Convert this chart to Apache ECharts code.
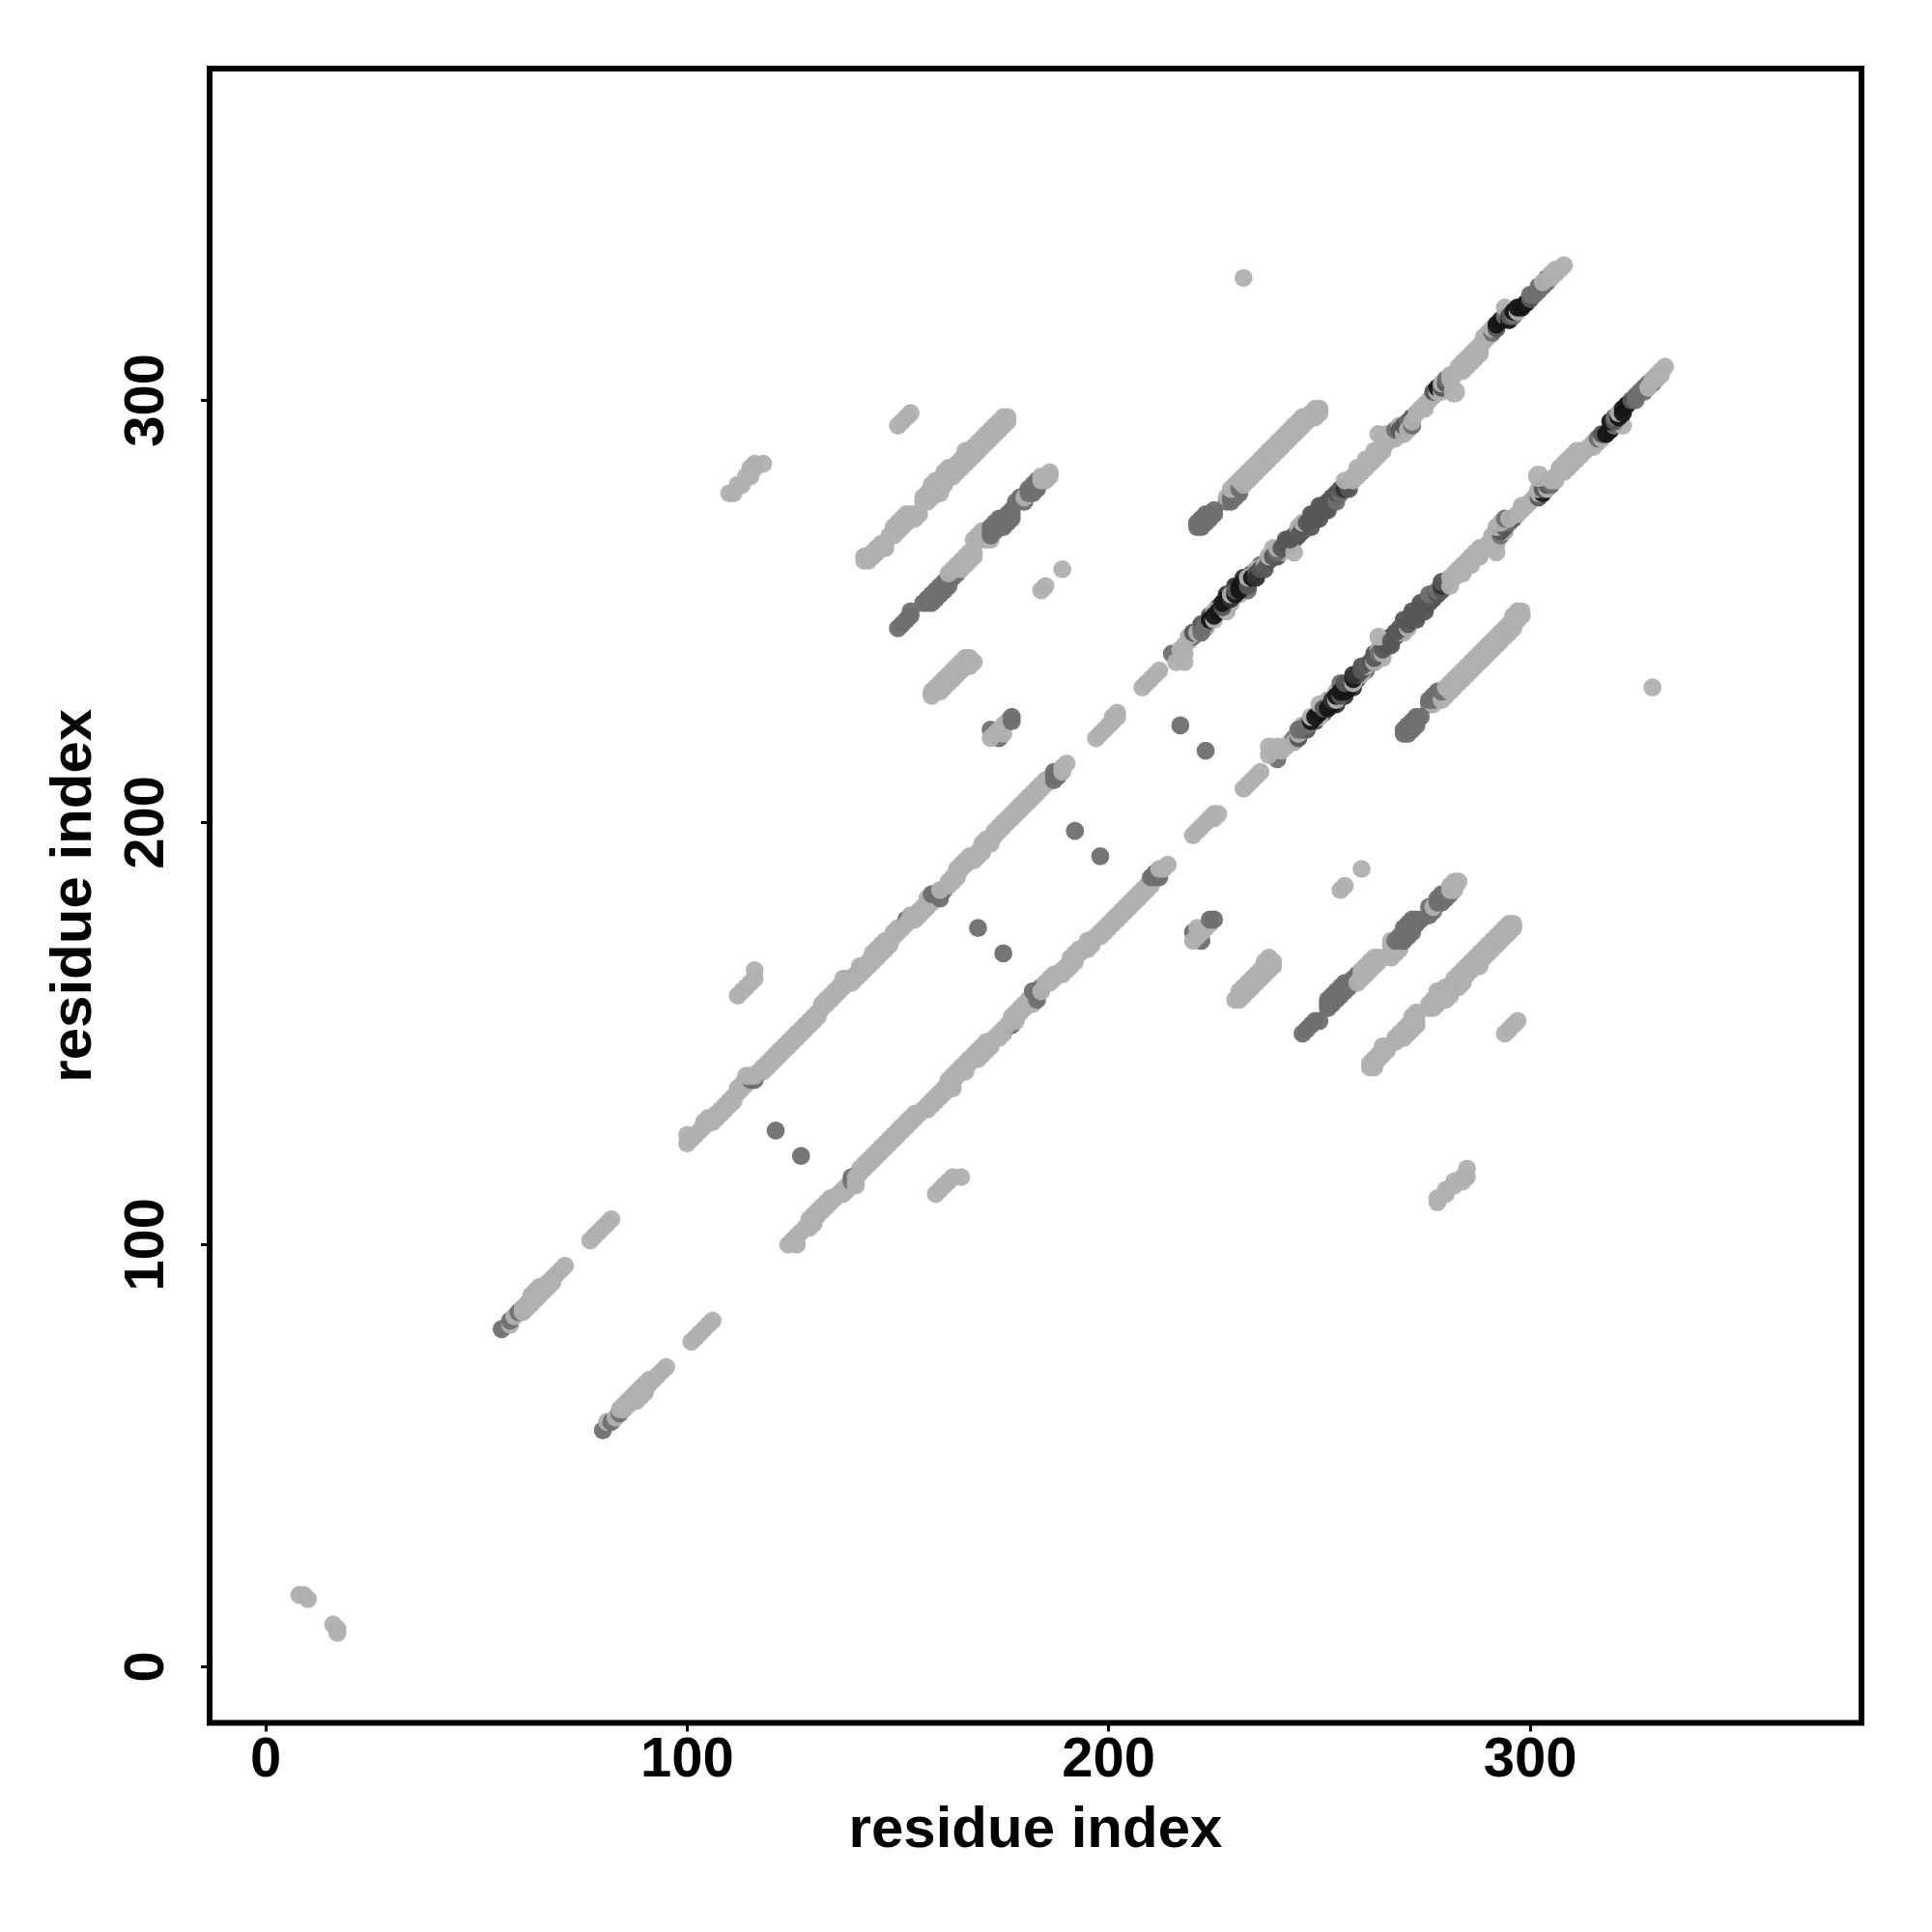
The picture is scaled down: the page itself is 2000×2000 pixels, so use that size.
<!DOCTYPE html>
<html><head><meta charset="utf-8">
<script src="https://cdn.jsdelivr.net/npm/echarts@6/dist/echarts.min.js"></script>
<style>html,body{margin:0;background:#fff}#c{width:2000px;height:2000px}</style></head>
<body><div id="c"></div>
<script>
const tickValues = [0, 100, 200, 300];
const axisTitle = 'residue index';
// contacts, upper triangle, each [x, y, level]; the map is symmetric
const cornerPairs = [[8,17,1],[9,17,1],[10,16,1]];
const nearPairs = [[121,127,2],[169,175,2],[192,198,2],[217,223,2]];
const farPairs = [[232,329,1],[189,260,1],[184,255,1],[185,256,1]];
const strandFlank = [[106,129,1],[107,130,1],[108,131,1],[109,132,1],[110,133,1],[111,134,1],[118,141,1],[119,142,1],[120,143,1],[121,144,1],[122,145,1],[123,146,1],[124,147,1],[125,148,1],[126,149,1],[127,150,1],[128,151,1],[129,152,1],[130,153,1],[131,154,1],[139,162,1],[140,163,1],[141,164,1],[142,165,1],[143,166,1],[144,167,1],[145,168,1],[146,169,1],[147,170,1],[148,171,1],[144,169,1],[145,170,1],[146,171,1],[147,172,1],[154,177,1],[155,178,1],[163,186,1],[164,187,1],[168,191,1],[169,192,1],[170,193,1],[172,195,1],[179,204,1],[181,206,1],[183,208,1],[185,210,1],
  [259,282,1],[260,283,1],[261,284,1],[262,285,1],[263,286,1],[264,287,1],[265,288,1],[259,284,1],[261,286,1],[263,288,1],[265,290,1],[284,307,1],[285,308,1],[286,309,1],[287,310,1],[288,311,1],[284,309,1],[285,310,1],[286,311,1],[287,312,1],
  [222,247,3],[224,249,3],[226,251,3],[228,254,4],[230,256,4],[232,258,4],[234,259,3],[236,261,2],[238,263,2],[240,263,3],[242,265,2],[244,267,3],[246,269,3],[248,273,3],[250,275,3],[252,275,3],[254,277,3],[223,246,1],[225,250,1],[229,252,1],[231,254,1],[233,255,2],[235,260,1],[239,265,1],[241,264,1],[243,266,1],[245,270,1],[247,270,1],[249,272,3],[251,274,3],[253,276,3]];
const strandEarly = [[56,80,2],[58,81,1],[58,82,2],[59,83,1],[60,84,2],[61,84,1],[61,85,1],[62,85,1],[62,86,1],[63,86,1],[63,87,1],[63,88,1],[64,87,1],[64,88,1],[64,89,1],[65,88,1],[65,89,1],[65,90,1],[66,89,1],[66,90,1],[67,90,1],[67,91,1],[68,91,1],[68,92,1],[69,93,1],[70,94,1],[71,95,1],
  [77,101,1],[78,102,1],[79,103,1],[80,104,1],[81,105,1],[82,106,1]];
const strandMiddle = [[100,124,1],[100,126,1],[101,125,1],[102,126,1],[103,127,1],[104,128,1],[104,129,1],[105,129,1],[105,130,1],[106,130,1],[107,131,1],[108,132,1],[109,133,1],[110,134,1],[111,135,1],[112,136,1],[112,137,1],[113,137,1],[113,138,1],[114,138,1],[115,139,2],[116,139,2],[114,140,1],[115,140,1],[116,140,1],[117,141,1],[118,142,1],[119,143,1],[120,144,1],[121,145,1],[122,146,1],[123,147,1],[124,148,1],[125,149,1],[126,150,1],[127,151,1],[128,152,1],[129,153,1],[130,154,1],[131,155,1],[132,156,1],[132,157,1],[133,157,1],[133,158,1],[134,158,1],[134,159,1],[135,159,1],[135,160,1],[136,160,1],[136,161,1],[137,161,1],[137,162,1],[137,163,1],[138,162,1],[138,163,1],[139,163,1],[140,164,1],[141,165,1],[141,166,1],[142,166,1],[143,167,1],[144,168,1],[145,169,1],[146,170,1],[147,171,1],[148,172,1],[149,173,1],[149,174,1],[150,174,1],[150,175,1],[151,175,1],[152,177,2],[152,176,1],[153,177,1],[153,178,1],[154,178,1],[155,179,1],[156,179,1],[156,180,1],[157,180,1],[157,182,1],[158,181,1],[158,183,2],[159,183,2],[160,182,2],[161,184,2],[160,184,1],[162,185,1],[162,186,1],[163,187,1],[164,188,1],[164,189,1],[165,189,1],[165,190,1],[166,190,1],[166,191,1],[167,191,1],[167,192,1],[168,192,1],[169,193,1],[170,194,1],[170,195,1],[171,195,1],[171,196,1],[172,196,1],[173,197,1],[173,198,1],[174,198,1],[174,199,1],[175,199,1],[175,200,1],[176,200,1],[176,201,1],[177,201,1],[177,202,1],[178,202,1],[178,203,1],[179,203,1],[180,204,1],[180,205,1],[181,205,1],[182,206,1],[182,207,1],[183,207,1],[184,208,1],[184,209,1],[185,209,1],[186,210,1],[187,210,2],[187,211,2],[187,212,2],[188,211,2],[188,212,2],[189,212,1],[189,213,1],[190,214,1],
  [197,220,1],[198,221,1],[199,222,1],[200,223,1],[201,224,1],[201,225,1],[202,225,1],[202,226,1],[208,232,1],[209,233,1],[210,234,1],[211,235,1],[212,236,1]];
const strandLate = [[215,240,2],[216,238,1],[218,238,1],[217,241,1],[218,242,1],[218,240,1],[219,243,1],[220,244,2],[219,244,1],[220,245,3],[221,245,1],[222,246,3],[222,245,2],[223,247,2],[224,248,5],[225,248,1],[225,249,5],[226,250,5],[228,250,1],[227,251,3],[227,252,5],[228,253,5],[229,253,4],[229,254,1],[230,254,5],[230,255,3],[231,255,5],[231,256,5],[232,257,5],[233,256,3],[233,258,1],[234,258,5],[235,259,3],[235,258,4],[236,260,3],[237,261,1],[237,260,3],[238,262,3],[238,263,1],[239,263,3],[240,264,2],[240,265,1],[241,265,3],[242,266,3],[243,267,1],[242,267,3],[244,264,1],[243,267,3],[244,268,3],[245,269,1],[245,268,3],[246,270,3],[246,271,1],[247,271,3],[248,270,3],[248,272,3],[249,273,3],[250,272,3],[250,274,3],[251,275,3],[252,274,3],[252,276,3],[253,277,3],[254,276,2],[254,278,3],[255,278,2],[255,279,3],[256,279,4],[257,279,3],[256,281,1],[258,281,1],[258,282,1],[259,283,1],[260,284,1],[261,285,1],[262,286,1],[263,287,1],[264,288,1],[265,289,1],[264,292,1],[265,291,1],[266,290,1],[266,292,1],[267,291,1],[268,291,1],[268,293,2],[269,294,1],[269,293,3],[270,292,1],[270,294,3],[271,295,2],[271,293,1],[272,294,2],[272,296,3],[272,295,1],[273,297,1],[274,298,1],[275,298,1],[275,299,1],[276,300,1],[277,301,1],[277,302,3],[278,302,1],[278,303,5],[279,302,1],[279,303,3],[279,304,1],[280,304,3],[280,305,2],[281,305,1],[281,306,1],[282,306,1],[283,307,1],[283,308,1],[284,308,1],[285,309,1],[286,310,1],[287,311,1],[288,312,1],[288,313,1],[289,314,1],[289,315,1],[290,315,1],[290,316,1],[291,316,2],[291,317,1],[292,317,3],[292,318,5],[293,319,5],[294,320,2],[294,322,1],[295,321,1],[295,319,5],[295,320,3],[296,320,2],[296,321,5],[297,321,1],[297,322,5],[298,322,5],[299,323,5],[300,324,3],[300,325,2],[301,325,2],[302,326,2],[302,327,2],[303,327,2],[304,328,2],[304,329,2],[303,328,1],[305,329,1],[305,330,1],[306,330,1],[306,331,1],[307,331,1],[308,332,1]];
const sheetA = [[110,278,1],[111,278,1],[112,280,1],[113,280,1],[114,282,1],[115,282,1],[115,284,1],[116,284,1],[116,285,1],[118,285,1],[112,159,1],[113,160,1],[114,161,1],[115,162,1],[116,163,1],[116,165,1],[150,294,1],[151,295,1],[152,296,1],[153,297,1],
  [142,262,1],[142,263,1],[143,262,1],[143,263,1],[144,263,1],[144,264,1],[145,264,1],[145,265,1],[146,265,1],[146,266,1],[147,265,1],[147,266,1],
  [148,268,1],[149,268,1],[149,269,1],[149,270,1],[150,269,1],[150,270,1],[150,271,1],[151,270,1],[151,271,1],[151,272,1],[152,271,1],[152,272,1],[152,273,1],[153,272,1],[153,273,1],[154,272,1],[154,273,1],[155,273,1],
  [156,276,1],[156,277,1],[157,276,1],[157,277,1],[157,278,1],[158,277,1],[158,278,1],[158,280,1],[159,278,1],[159,279,1],[159,281,1],[160,278,1],[160,280,1],[160,281,1],[161,280,1],[161,281,1],[161,283,1],[162,282,1],[162,284,1],[163,282,1],[163,283,1],[163,284,1],[164,283,1],[164,285,1],[165,284,1],[165,286,1],[166,285,1],[166,288,1],[167,288,1],[167,286,1],[168,289,1],[168,287,1],[169,288,1],[169,290,1],[170,291,1],[170,289,1],[170,290,1],[171,290,1],[171,291,1],[171,292,1],[172,293,1],[172,292,1],[172,291,1],[173,294,1],[173,293,1],[173,292,1],[174,295,1],[174,294,1],[174,293,1],[175,296,1],[175,295,1],[175,294,1],[176,296,1],[176,295,1]];
const sheetB = [[150,246,2],[151,247,2],[152,248,2],[153,249,2],[153,250,2],
  [156,252,2],[157,252,2],[157,253,2],[158,252,2],[158,253,2],[158,254,2],[159,253,2],[159,254,2],[159,255,2],[160,254,2],[160,255,2],[160,256,2],[161,255,2],[161,256,2],[161,257,2],[162,256,2],[162,257,2],[162,258,2],[163,258,2],[163,259,2],[164,259,2],
  [162,259,1],[163,260,1],[164,260,1],[164,261,1],[165,260,1],[165,261,1],[165,262,1],[166,261,1],[166,262,1],[166,263,1],[167,262,1],[167,263,1],[167,264,1],[168,263,1],[168,264,1],
  [168,267,1],[169,267,1],[170,267,1],[171,267,1],[172,267,1],[169,268,1],[170,269,1],
  [172,268,2],[172,269,2],[172,270,2],[173,269,2],[173,270,2],[173,271,2],[174,270,2],[174,271,2],[174,272,2],[175,270,2],[175,271,2],[175,272,2],[176,271,2],[176,272,2],[176,273,2],[177,272,2],[177,273,2],[177,274,2],
  [178,276,2],[179,277,2],[180,276,2],[180,277,1],[181,278,2],[181,279,2],[182,278,2],[182,279,2],[182,280,2],[183,279,2],[183,280,2],[183,281,2],[184,281,1],[184,282,1],[185,281,1],[185,282,1],[186,283,1],[186,282,1]];
const sheetC = [[158,230,1],[158,231,1],[160,231,1],[159,231,1],[159,232,1],[160,232,1],[160,233,1],[161,232,1],[161,233,1],[161,234,1],[162,233,1],[162,234,1],[162,235,1],[163,234,1],[163,235,1],[163,236,1],[164,235,1],[164,236,1],[164,237,1],[165,236,1],[165,237,1],[165,238,1],[166,237,1],[166,238,1],[166,239,1],[167,237,1],[167,238,1],[167,239,1],[168,238,1],
  [172,222,2],[174,220,2],[172,220,1],[173,221,1],[174,222,1],[175,223,1],[176,224,1],[175,221,1],[177,225,2],[177,224,2]];
const sheetD = [[221,270,2],[221,271,2],[222,270,2],[222,271,2],[222,272,2],[223,271,2],[223,272,2],[223,273,2],[224,272,2],[224,273,2],[225,273,2],[225,274,2],
  [228,276,2],[228,277,1],[229,276,2],[229,277,2],[230,277,2],[230,278,2],[231,278,2],[229,279,1],[230,280,1],[231,279,2],[231,281,1],[232,280,1],[232,281,1],[232,282,1],[233,281,1],[233,282,1],[233,283,1],[234,282,1],[234,283,1],[234,284,1],[235,283,1],[235,284,1],[235,285,1],[236,284,1],[236,285,1],[236,286,1],[237,285,1],[237,286,1],[237,287,1],[238,286,1],[238,287,1],[238,288,1],[239,287,1],[239,288,1],[239,289,1],[240,288,1],[240,289,1],[240,290,1],[241,289,1],[241,290,1],[241,291,1],[242,290,1],[242,291,1],[242,292,1],[243,291,1],[243,292,1],[243,293,1],[244,292,1],[244,293,1],[244,294,1],[245,293,1],[245,294,1],[245,295,1],[246,294,1],[246,295,1],[246,296,1],[247,295,1],[247,296,1],[248,296,1],[248,297,1],[249,296,1],[249,297,1],[249,298,1],[250,297,1],[250,298,1]];
const largeDots = [[282,302,1]];

const levelColor = {1:'#b0b0b0',2:'#6f6f6f',3:'#565656',4:'#333333',5:'#161616'};
const withMirror = rows => rows.concat(rows.map(r => [r[1], r[0], r[2]]));
const small = withMirror([].concat(cornerPairs, nearPairs, farPairs, strandFlank, strandEarly, strandMiddle, strandLate, sheetA, sheetB, sheetC, sheetD));
const large = withMirror(largeDots);
const dotStyle = {opacity:0.95, color:p => levelColor[p.value[2]]};
const axisBase = () => ({
  type:'value', min:-13.3, max:378.6, scale:false, splitLine:{show:false},
  axisLine:{show:false,onZero:false},
  axisTick:{show:true, length:9, inside:false, lineStyle:{color:'#000',width:3}, customValues:tickValues},
  name:axisTitle, nameLocation:'middle',
  nameTextStyle:{color:'#000',fontSize:60,fontWeight:'bold',fontFamily:'Liberation Sans'}
});
const x = axisBase(); x.nameGap = 82;
x.axisLabel = {color:'#000',fontSize:58,fontWeight:'bold',fontFamily:'Liberation Sans',margin:10,customValues:tickValues};
const y = axisBase(); y.nameGap = 110;
y.axisLabel = {color:'#000',fontSize:58,fontWeight:'bold',fontFamily:'Liberation Sans',margin:35,rotate:90,customValues:tickValues};
const chart = echarts.init(document.getElementById('c'), null, {renderer:'canvas'});
chart.setOption({
  animation:false, backgroundColor:'#fff',
  grid:{left:217,right:73,top:71,bottom:216.5,show:true,borderColor:'#000',borderWidth:6,backgroundColor:'#fff'},
  xAxis:x, yAxis:y,
  series:[
    {type:'scatter',silent:true,symbol:'circle',symbolSize:18.7,itemStyle:dotStyle,data:small,progressive:0},
    {type:'scatter',silent:true,symbol:'circle',symbolSize:22,itemStyle:dotStyle,data:large}
  ]
});
</script></body></html>
